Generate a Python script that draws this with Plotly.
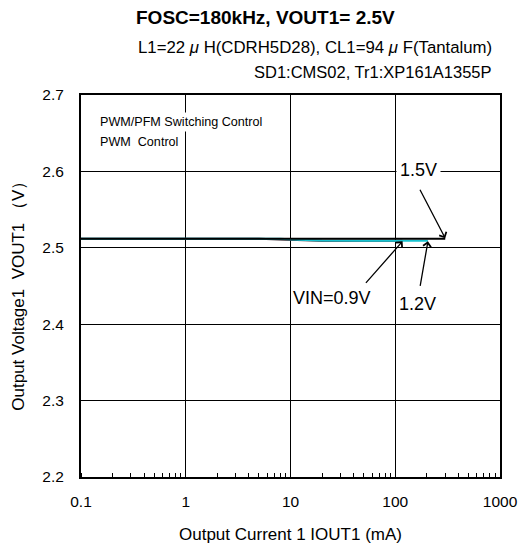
import plotly.graph_objects as go

# Data
iout_09 = [0.1, 1, 5, 8, 12, 20, 50, 117]
vout_09 = [2.512, 2.512, 2.512, 2.5108, 2.5098, 2.5092, 2.5091, 2.5091]
iout_12 = [0.1, 1, 8, 12, 20, 50, 100, 205]
vout_12 = [2.512, 2.512, 2.512, 2.5105, 2.5095, 2.5092, 2.5092, 2.5092]
iout_15 = [0.1, 1, 10, 100, 300]
vout_15 = [2.512, 2.512, 2.512, 2.512, 2.512]

x_ticks = [0.1, 1, 10, 100, 1000]
x_labels = ["0.1", "1", "10", "100", "1000"]
y_ticks = [2.2, 2.3, 2.4, 2.5, 2.6, 2.7]
y_labels = ["2.2", "2.3", "2.4", "2.5", "2.6", "2.7"]

FONT = "Liberation Sans, Arial, sans-serif"

fig = go.Figure()
fig.add_trace(go.Scatter(x=iout_09, y=vout_09, mode="lines", name="VIN=0.9V",
                         line=dict(color="#1a0a14", width=2)))
fig.add_trace(go.Scatter(x=iout_12, y=vout_12, mode="lines", name="VIN=1.2V",
                         line=dict(color="#19c3d0", width=2)))
fig.add_trace(go.Scatter(x=iout_15, y=vout_15, mode="lines", name="VIN=1.5V",
                         line=dict(color="#000000", width=2)))

fig.update_layout(
    width=523, height=544,
    margin=dict(l=81, r=23, t=95, b=67),
    paper_bgcolor="white", plot_bgcolor="white",
    showlegend=False,
    font=dict(family=FONT, size=15, color="black"),
)

fig.update_xaxes(
    type="log", range=[-1, 3],
    tickvals=x_ticks, ticktext=x_labels,
    showgrid=True, gridcolor="black", gridwidth=1,
    showline=True, linecolor="black", linewidth=2, mirror=True,
    ticks="", ticklabelstandoff=9,
    minor=dict(ticks="inside", ticklen=4, tickcolor="black", tickwidth=1,
               showgrid=False, dtick="D1"),
    zeroline=False,
    title=dict(text="Output Current 1 IOUT1 (mA)", font=dict(size=17), standoff=21),
    tickfont=dict(size=15.5),
    automargin=False,
)
fig.update_yaxes(
    range=[2.2, 2.7],
    tickvals=y_ticks, ticktext=y_labels,
    showgrid=True, gridcolor="black", gridwidth=1,
    showline=True, linecolor="black", linewidth=2, mirror=True,
    ticks="", ticklabelstandoff=12,
    zeroline=False,
    tickfont=dict(size=15.5),
    automargin=False,
)

# Y axis title (placed as rotated text to match the reference's position)
fig.add_annotation(xref="paper", yref="paper", x=0, xshift=-62, y=0.485,
                   text="Output Voltage1  VOUT1 （V）", textangle=-90,
                   showarrow=False, font=dict(size=17),
                   xanchor="center", yanchor="middle")

# Titles
fig.add_annotation(xref="paper", yref="paper", x=0.44, y=1.0, yshift=78,
                   text="<b>FOSC=180kHz, VOUT1= 2.5V</b>", showarrow=False,
                   font=dict(size=19), xanchor="center", yanchor="middle")
fig.add_annotation(xref="paper", yref="paper", x=0.985, y=1.0, yshift=48,
                   text="L1=22 <i>μ</i> H(CDRH5D28), CL1=94 <i>μ</i> F(Tantalum)",
                   showarrow=False, font=dict(size=16.8), xanchor="right", yanchor="middle")
fig.add_annotation(xref="paper", yref="paper", x=0.985, y=1.0, yshift=23,
                   text="SD1:CMS02, Tr1:XP161A1355P",
                   showarrow=False, font=dict(size=16.5), xanchor="right", yanchor="middle")

# Inner note
fig.add_annotation(xref="paper", yref="paper", x=0.038, y=0.93,
                   text="PWM/PFM Switching Control",
                   showarrow=False, font=dict(size=12.6), align="left",
                   xanchor="left", yanchor="middle", bgcolor="white", borderpad=2)
fig.add_annotation(xref="paper", yref="paper", x=0.038, y=0.877,
                   text="PWM  Control",
                   showarrow=False, font=dict(size=12.6), align="left",
                   xanchor="left", yanchor="middle", bgcolor="white", borderpad=2)

# Arrows
fig.add_annotation(x=2.477, y=2.5125, xref="x", yref="y", text="", showarrow=True,
                   arrowhead=4, arrowsize=1.2, arrowwidth=1.3, arrowcolor="black",
                   ax=-26, ay=-50)
fig.add_annotation(x=2.070, y=2.5085, xref="x", yref="y", text="", showarrow=True,
                   arrowhead=4, arrowsize=1.2, arrowwidth=1.3, arrowcolor="black",
                   ax=-38, ay=43)
fig.add_annotation(x=2.312, y=2.5085, xref="x", yref="y", text="", showarrow=True,
                   arrowhead=4, arrowsize=1.2, arrowwidth=1.3, arrowcolor="black",
                   ax=-8, ay=46)

# Labels
fig.add_annotation(x=2.22, y=2.6, xref="x", yref="y", text="1.5V", showarrow=False,
                   font=dict(size=18), bgcolor="white", borderpad=3,
                   xanchor="center", yanchor="middle", yshift=1)
fig.add_annotation(x=1.40, y=2.434, xref="x", yref="y", text="VIN=0.9V", showarrow=False,
                   font=dict(size=18), bgcolor="white", borderpad=1,
                   xanchor="center", yanchor="middle")
fig.add_annotation(x=2.21, y=2.426, xref="x", yref="y", text="1.2V", showarrow=False,
                   font=dict(size=18), bgcolor="white", borderpad=1,
                   xanchor="center", yanchor="middle")

fig.write_html("out.html", config={"displayModeBar": False},
               post_script="document.body.style.margin='0';document.body.style.overflow='hidden';")
